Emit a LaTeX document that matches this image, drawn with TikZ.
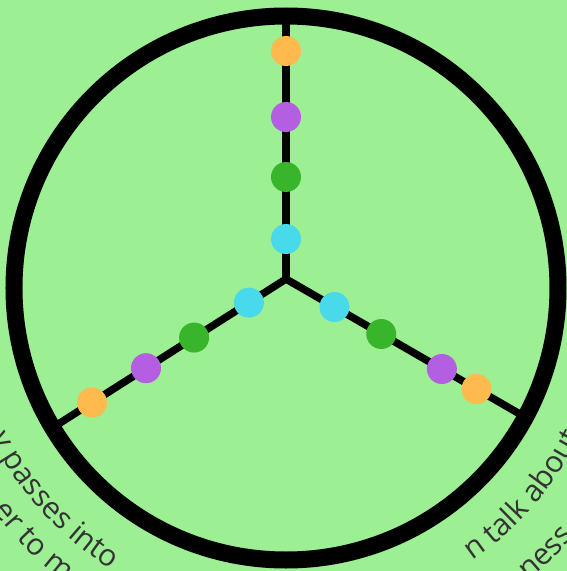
\documentclass[tikz,border=0pt]{standalone}
\usepackage{fontspec}
\setmainfont{Open Sans}
\usepackage{tikz}
\usetikzlibrary{calc,decorations.text}
\definecolor{LeafBg}{HTML}{9CEF93}
\definecolor{DotOrange}{HTML}{FFBA4D}
\definecolor{DotPurple}{HTML}{B45EE2}
\definecolor{DotGreen}{HTML}{38B52B}
\definecolor{DotCyan}{HTML}{48DAEA}
\definecolor{RingText}{HTML}{333333}
\newcommand{\ringfont}{\fontsize{30}{36}\selectfont}

\begin{document}
\begin{tikzpicture}[
  x=1pt,y=1pt,
  ring/.style={draw=black, line width=17pt},
  spoke/.style={draw=black, line width=7.5pt},
  dot/.style={circle, fill=#1, minimum size=30pt, inner sep=0pt},
  ringtext/.style={decorate, decoration={text along path, text color=RingText, text={|\ringfont|#1}}}
]
\useasboundingbox (-286,-283) rectangle (281,288);
\fill[LeafBg] (-286,-283) rectangle (281,288);
\clip (-286,-283) rectangle (281,288);

\coordinate (C) at (0,0);
\coordinate (hub) at (0,9);
\coordinate (topend) at (0,272);
\coordinate (leftend) at ($(hub)+(212.5:277)$);
\coordinate (rightend) at ($(hub)+(330:276)$);

\draw[ring] (C) circle[radius=272];
\draw[spoke] (hub) -- (topend);
\draw[spoke] (hub) -- (leftend);
\draw[spoke] (hub) -- (rightend);

\node[dot=DotCyan] (tc) at ($(hub)+(90:40)$) {};
\node[dot=DotGreen] (tg) at ($(hub)+(90:102)$) {};
\node[dot=DotPurple] (tp) at ($(hub)+(90:162)$) {};
\node[dot=DotOrange] (to) at ($(hub)+(90:228)$) {};

\node[dot=DotCyan] (lc) at ($(hub)+(212.5:44)$) {};
\node[dot=DotGreen] (lg) at ($(hub)+(212.5:109)$) {};
\node[dot=DotPurple] (lp) at ($(hub)+(212.5:166)$) {};
\node[dot=DotOrange] (lo) at ($(hub)+(212.5:230)$) {};

\node[dot=DotCyan] (rc) at ($(hub)+(330:56)$) {};
\node[dot=DotGreen] (rg) at ($(hub)+(330:110)$) {};
\node[dot=DotPurple] (rp) at ($(hub)+(330:180)$) {};
\node[dot=DotOrange] (ro) at ($(hub)+(330:220)$) {};

\path[ringtext={y passes into}] ($(C)+(206.9:331)$) arc[start angle=206.9, end angle=252, radius=331];
\path[ringtext={er to m}] ($(C)+(217.2:368)$) arc[start angle=217.2, end angle=252, radius=368];
\path[ringtext={n talk about}] ($(C)+(304.3:330)$) arc[start angle=304.3, end angle=345, radius=330];
\path[ringtext={ness}] ($(C)+(309.6:380)$) arc[start angle=309.6, end angle=345, radius=380];

\end{tikzpicture}
\end{document}
